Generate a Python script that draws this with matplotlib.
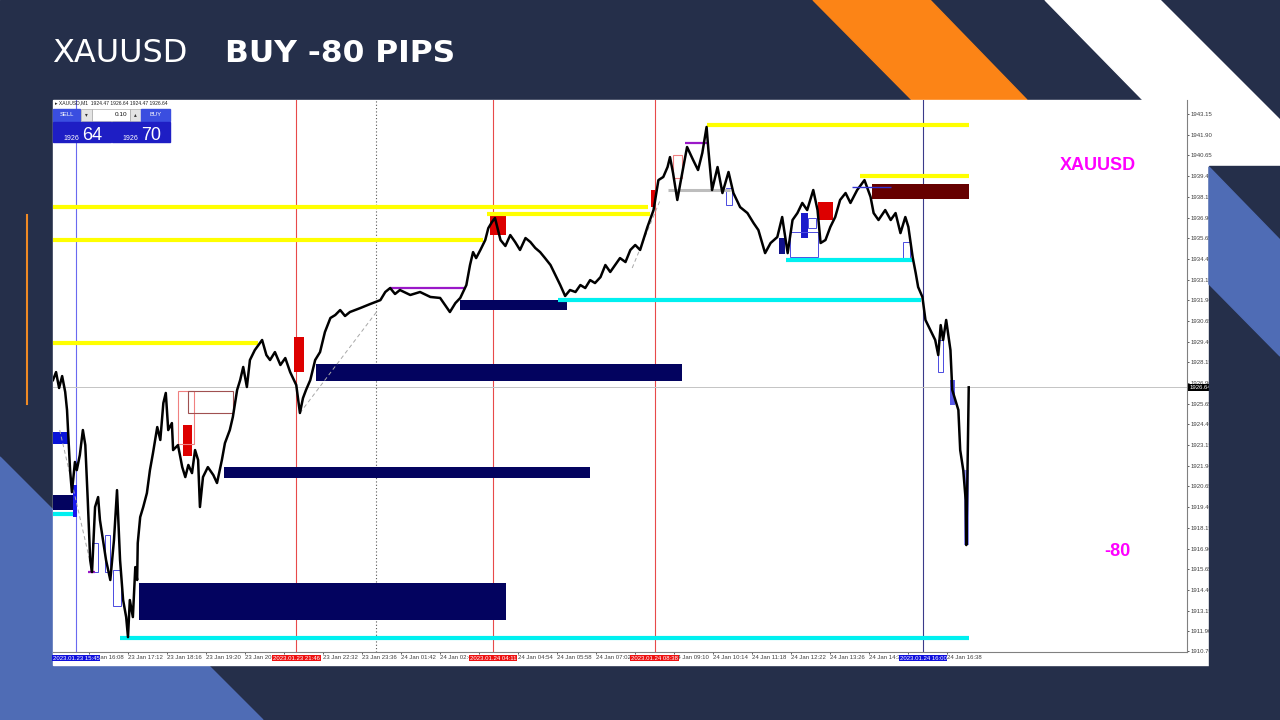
import matplotlib
matplotlib.use("Agg")
import matplotlib.pyplot as plt
from matplotlib.patches import Rectangle, Polygon

# slide colours
NAVY = '#252f4a'
STEEL = '#4f6cb5'
ORANGE = '#fc8416'

# ---- price trace (bar index, price) ----
bars = [0, 5, 10, 15, 20, 23, 28, 31, 36, 39,
        44, 49, 53, 57, 61, 64, 69, 74, 77, 82,
        87, 94, 100, 105, 110, 115, 120, 123, 126, 131,
        135, 138, 139, 143, 148, 154, 159, 164, 171, 176,
        181, 185, 189, 195, 197, 205, 212, 217, 222, 228,
        233, 238, 241, 246, 254, 263, 269, 277, 282, 290,
        295, 302, 307, 312, 318, 323, 331, 343, 350, 356,
        364, 373, 381, 389, 399, 405, 410, 415, 422, 430,
        438, 446, 455, 463, 471, 479, 487, 504, 520, 537,
        545, 553, 561, 569, 586, 602, 619, 635, 643, 651,
        660, 668, 678, 684, 689, 694, 701, 709, 714, 720,
        725, 734, 742, 750, 758, 766, 775, 783, 791, 799,
        807, 816, 824, 832, 840, 848, 857, 865, 873, 881,
        889, 898, 906, 914, 922, 930, 939, 947, 955, 963,
        975, 985, 993, 1001, 1008, 1012, 1017, 1024, 1029, 1040,
        1050, 1058, 1065, 1072, 1075, 1081, 1090, 1098, 1108, 1116,
        1127, 1139, 1149, 1157, 1168, 1177, 1188, 1196, 1205, 1213,
        1221, 1229, 1237, 1247, 1254, 1259, 1267, 1275, 1283, 1291,
        1300, 1308, 1319, 1331, 1341, 1346, 1354, 1365, 1374, 1382,
        1390, 1398, 1403, 1410, 1415, 1419, 1426, 1431, 1439, 1447,
        1452, 1456, 1460, 1465, 1472, 1475, 1480, 1485, 1488, 1493,
        1497, 1498, 1500, 1502]
prices = [1927.08, 1927.56, 1926.60, 1927.32, 1926.36, 1925.27, 1921.64, 1920.31, 1922.13, 1921.64,
          1922.55, 1924.06, 1923.15, 1919.83, 1916.20, 1915.48, 1919.41, 1920.01, 1918.62, 1917.41,
          1916.20, 1915.00, 1917.41, 1920.43, 1916.20, 1913.79, 1912.76, 1911.55, 1913.79, 1912.76,
          1915.78, 1915.00, 1917.23, 1918.80, 1919.41, 1920.25, 1921.64, 1922.67, 1924.24, 1923.46,
          1925.69, 1926.30, 1924.06, 1924.48, 1922.85, 1923.15, 1921.82, 1921.22, 1921.95, 1921.46,
          1922.85, 1922.25, 1919.41, 1921.22, 1921.82, 1921.34, 1920.86, 1922.25, 1923.27, 1924.06,
          1924.85, 1926.48, 1927.08, 1927.87, 1926.66, 1928.29, 1928.89, 1929.50, 1928.59, 1928.29,
          1928.77, 1927.99, 1928.41, 1927.56, 1926.78, 1925.09, 1925.99, 1926.48, 1927.08, 1928.29,
          1928.77, 1929.98, 1930.83, 1931.01, 1931.31, 1930.95, 1931.19, 1931.43, 1931.67, 1931.91,
          1932.40, 1932.64, 1932.28, 1932.52, 1932.22, 1932.40, 1932.10, 1932.04, 1931.61, 1931.19,
          1931.73, 1932.04, 1932.82, 1934.03, 1934.81, 1934.45, 1934.94, 1935.54, 1936.26, 1936.63,
          1936.87, 1935.54, 1935.18, 1935.84, 1935.42, 1934.94, 1935.66, 1935.42, 1935.06, 1934.81,
          1934.45, 1934.03, 1933.42, 1932.82, 1932.16, 1932.52, 1932.40, 1932.82, 1932.64, 1933.12,
          1932.94, 1933.30, 1934.03, 1933.61, 1934.03, 1934.45, 1934.21, 1934.94, 1935.24, 1934.94,
          1936.33, 1937.35, 1939.16, 1939.35, 1939.95, 1940.55, 1939.59, 1937.96, 1938.98, 1941.16,
          1940.37, 1939.77, 1940.80, 1942.37, 1940.98, 1938.56, 1939.95, 1938.38, 1939.65, 1938.38,
          1937.53, 1937.17, 1936.57, 1936.14, 1934.75, 1935.36, 1935.72, 1936.93, 1934.75, 1936.75,
          1937.17, 1937.78, 1937.35, 1938.56, 1937.35, 1935.36, 1935.54, 1936.33, 1936.93, 1937.96,
          1938.38, 1937.78, 1938.56, 1939.16, 1938.14, 1937.17, 1936.75, 1937.35, 1936.75, 1937.17,
          1935.96, 1936.93, 1936.33, 1934.51, 1933.55, 1932.70, 1932.10, 1930.71, 1930.10, 1929.50,
          1928.59, 1930.40, 1929.50, 1930.71, 1928.89, 1926.48, 1925.87, 1925.27, 1922.85, 1921.64,
          1919.83, 1917.11, 1921.64, 1926.64]
last_price = 1926.64

# ---- horizontal levels ----
yellow_levels = [1937.53, 1935.54, 1937.11, 1929.31, 1942.49, 1939.40]
yellow_from = [0, 0, 712, 0, 1072, 1323]
yellow_to = [976, 706, 980, 336, 1502, 1502]

cyan_levels = [1911.49, 1931.91, 1934.33, 1918.98]
cyan_from = [110, 829, 1203, 0]
cyan_to = [1502, 1423, 1410, 33]

purple_levels = [1932.64, 1941.40, 1915.48]
purple_from = [553, 1037, 57]
purple_to = [678, 1072, 69]

# ---- zones (demand = navy, supply = maroon) ----
demand_from = [141, 281, 432, 668, 0]
demand_to = [743, 881, 1032, 843, 33]
demand_low = [1912.58, 1921.16, 1927.02, 1931.31, 1919.22]
demand_high = [1914.81, 1921.82, 1928.04, 1931.91, 1920.13]

supply_from = [1344]
supply_to = [1502]
supply_low = [1938.01]
supply_high = [1938.92]

# ---- small order-block boxes ----
red_from = [213, 395, 717, 1255, 981]
red_to = [228, 412, 743, 1280, 988]
red_low = [1922.48, 1927.56, 1935.84, 1936.75, 1937.53]
red_high = [1924.36, 1929.68, 1936.99, 1937.83, 1938.56]

redo_from = [205, 222, 1017]
redo_to = [231, 295, 1032]
redo_low = [1923.21, 1925.09, 1939.28]
redo_high = [1926.42, 1926.42, 1940.67]
redo_color = ['#f08080', '#a05050', '#f08080']

blue_from = [1227, 1190, 33, 0, 1472, 1495]
blue_to = [1239, 1200, 39, 25, 1479, 1502]
blue_low = [1935.66, 1934.69, 1918.80, 1923.21, 1925.57, 1917.11]
blue_high = [1937.17, 1935.66, 1920.74, 1923.94, 1927.08, 1921.64]
blue_color = ['#1a1acc', '#10108a', '#1a1aee', '#0a14d8', '#5a5ae8', '#8c8cf0']

blueo_from = [1104, 1239, 1395, 1452, 64, 98, 85, 1209]
blueo_to = [1114, 1252, 1406, 1459, 74, 112, 94, 1254]
blueo_low = [1937.65, 1936.27, 1934.45, 1927.56, 1915.48, 1913.43, 1915.48, 1934.51]
blueo_high = [1938.68, 1936.87, 1935.42, 1929.50, 1917.23, 1915.60, 1917.72, 1936.02]

# ---- dashed trend segments ----
dash_bars = [[405, 533], [11, 64], [950, 996]]
dash_prices = [[1925.09, 1931.31], [1924.06, 1915.60], [1933.85, 1937.96]]

# ---- vertical markers ----
vline_bars = [38, 399, 722, 987, 1427]
vline_colors = ['#6a6af0', '#e84a4a', '#e84a4a', '#e84a4a', '#3a3a8a']
vline_labels = ['2023.01.23 15:45', '2023.01.23 21:46', '2023.01.24 04:11',
                '2023.01.24 08:38', '2023.01.24 16:00']
vline_boxes = ['#1010dd', '#ee1111', '#ee1111', '#ee1111', '#1010dd']
day_sep_bar = 530

# ---- axis labels ----
time_ticks = [59, 123, 187, 251, 315, 379, 443, 507, 571, 635, 699, 763,
              827, 891, 955, 1019, 1083, 1147, 1211, 1275, 1339, 1403, 1467]
time_labels = ['23 Jan 16:08', '23 Jan 17:12', '23 Jan 18:16', '23 Jan 19:20',
               '23 Jan 20:24', '23 Jan 21:28', '23 Jan 22:32', '23 Jan 23:36',
               '24 Jan 01:42', '24 Jan 02:46', '24 Jan 03:50', '24 Jan 04:54',
               '24 Jan 05:58', '24 Jan 07:02', '24 Jan 08:06', '24 Jan 09:10',
               '24 Jan 10:14', '24 Jan 11:18', '24 Jan 12:22', '24 Jan 13:26',
               '24 Jan 14:30', '24 Jan 15:34', '24 Jan 16:38']
price_ticks = [1910.70, 1911.90, 1913.15, 1914.40, 1915.65, 1916.90, 1918.15,
               1919.40, 1920.65, 1921.90, 1923.15, 1924.40, 1925.65, 1926.90,
               1928.15, 1929.40, 1930.65, 1931.90, 1933.15, 1934.40, 1935.65,
               1936.90, 1938.15, 1939.40, 1940.65, 1941.90, 1943.15]

fig = plt.figure(figsize=(12.8, 7.2), dpi=100)

# background slide, pixel coordinates
bg = fig.add_axes([0, 0, 1, 1], zorder=0)
bg.set_xlim(0, 1280)
bg.set_ylim(720, 0)
bg.axis('off')
bg.add_patch(Rectangle((0, 0), 1280, 720, color=NAVY))
bg.add_patch(Polygon([(813, 0), (930, 0), (1027, 100), (912, 100)], color=ORANGE))
bg.add_patch(Polygon([(1045, 0), (1160, 0), (1280, 120), (1280, 240)], color='white'))
bg.add_patch(Polygon([(0, 457), (263, 720), (0, 720)], color=STEEL))
bg.plot([27, 27], [215, 404], color='#f08a24', lw=1.5)
bg.add_patch(Rectangle((53, 100), 1156, 565, color='white'))
bg.text(52, 54, 'XAUUSD', color='white', fontsize=23, family='DejaVu Sans',
        va='center', ha='left')
bg.text(225, 54, 'BUY -80 PIPS', color='white', fontsize=22.5, family='DejaVu Sans',
        fontweight='bold', va='center', ha='left')

# chart
ax = fig.add_axes([53 / 1280, 68 / 720, 1134 / 1280, 552 / 720], zorder=1)
ax.set_facecolor('white')
ax.set_xlim(0, 1860)
ax.set_ylim(1910.65, 1944.0)

for b, c in zip(vline_bars, vline_colors):
    ax.axvline(b, color=c, lw=0.8, zorder=1)
ax.axvline(day_sep_bar, color='#555555', lw=0.8, ls=(0, (1, 2)), zorder=1)
ax.axhline(last_price, color='#c4c4c4', lw=0.7, zorder=1)

ax.bar(demand_from, [h - l for h, l in zip(demand_high, demand_low)],
       width=[t - f for t, f in zip(demand_to, demand_from)], bottom=demand_low,
       align='edge', color='#03035f', zorder=2)
ax.bar(supply_from, [h - l for h, l in zip(supply_high, supply_low)],
       width=[t - f for t, f in zip(supply_to, supply_from)], bottom=supply_low,
       align='edge', color='#660000', zorder=2)
ax.bar(red_from, [h - l for h, l in zip(red_high, red_low)],
       width=[t - f for t, f in zip(red_to, red_from)], bottom=red_low,
       align='edge', color='#dd0000', zorder=2)
ax.bar(redo_from, [h - l for h, l in zip(redo_high, redo_low)],
       width=[t - f for t, f in zip(redo_to, redo_from)], bottom=redo_low,
       align='edge', facecolor='none', edgecolor=redo_color, lw=0.8, zorder=2)
ax.bar(blue_from, [h - l for h, l in zip(blue_high, blue_low)],
       width=[t - f for t, f in zip(blue_to, blue_from)], bottom=blue_low,
       align='edge', color=blue_color, zorder=2)
ax.bar(blueo_from, [h - l for h, l in zip(blueo_high, blueo_low)],
       width=[t - f for t, f in zip(blueo_to, blueo_from)], bottom=blueo_low,
       align='edge', facecolor='none', edgecolor='#4a4ae0', lw=0.7, zorder=2)

ax.hlines(yellow_levels, yellow_from, yellow_to, colors='#ffff00', lw=3, zorder=2)
ax.hlines(cyan_levels, cyan_from, cyan_to, colors='#00f0f0', lw=3, zorder=2)
ax.hlines(purple_levels, purple_from, purple_to, colors='#9a18c8', lw=1.6, zorder=2)
ax.hlines([1938.56], [1008], [1111], colors='#bdbdbd', lw=2.2, zorder=2)
ax.hlines([1938.74], [1311], [1374], colors='#3030d0', lw=1.0, zorder=4)
for xs, ys in zip(dash_bars, dash_prices):
    ax.plot(xs, ys, color='#a8a8a8', lw=0.7, ls=(0, (4, 3)), zorder=2)

ax.plot(bars, prices, color='black', lw=1.8, zorder=3)

# axes styling like the MT4 terminal
for s in ['top', 'left']:
    ax.spines[s].set_visible(False)
for s in ['right', 'bottom']:
    ax.spines[s].set_color('#808080')
    ax.spines[s].set_linewidth(0.8)
ax.yaxis.tick_right()
ax.set_yticks(price_ticks)
ax.set_yticklabels([f'{p:.2f}' for p in price_ticks])
ax.set_xticks(time_ticks)
ax.set_xticklabels(time_labels)
ax.tick_params(axis='both', labelsize=4.3, length=1.6, width=0.6, pad=0.8,
               colors='#404040')
for lbl in ax.get_xticklabels() + ax.get_yticklabels():
    lbl.set_family('Liberation Sans')
for lbl in ax.get_xticklabels():
    lbl.set_horizontalalignment('left')

for b, txt, c in zip(vline_bars, vline_labels, vline_boxes):
    ax.text(b, -0.011, txt, transform=ax.get_xaxis_transform(), ha='center',
            va='center', fontsize=4.3, family='Liberation Sans', color='white',
            bbox=dict(boxstyle='square,pad=0.15', fc=c, ec='none'), zorder=5,
            clip_on=False)
ax.text(1.002, last_price, f'{last_price:.2f}', transform=ax.get_yaxis_transform(),
        ha='left', va='center', fontsize=4.3, family='Liberation Sans', color='white',
        bbox=dict(boxstyle='square,pad=0.15', fc='black', ec='none'), zorder=5,
        clip_on=False)

# overlay: right-hand slide strip, trade panel, annotations (pixel coordinates)
ui = fig.add_axes([0, 0, 1, 1], zorder=2)
ui.set_xlim(0, 1280)
ui.set_ylim(720, 0)
ui.axis('off')
ui.patch.set_alpha(0)
ui.add_patch(Rectangle((1209, 166), 71, 554, color=NAVY))
ui.add_patch(Polygon([(1209, 167), (1280, 240), (1280, 356), (1209, 284)], color=STEEL))

ui.text(1098, 166, 'XAUUSD', color='#ff00ff', fontsize=13, fontweight='bold',
        family='Liberation Sans', ha='center', va='center')
ui.text(1117, 552, '-80', color='#ff00ff', fontsize=13, fontweight='bold',
        family='Liberation Sans', ha='center', va='center')

ui.text(55, 102.5, '\u25b8 XAUUSD,M1  1924.47 1926.64 1924.47 1926.64', fontsize=3.6,
        color='#222222', family=['Liberation Sans', 'DejaVu Sans'], va='center')
ui.add_patch(Rectangle((53, 109), 27, 12, color='#3a4ee0'))
ui.text(66.5, 115, 'SELL', color='white', fontsize=4.2, family='Liberation Sans',
        ha='center', va='center')
ui.add_patch(Rectangle((81, 109), 11, 12, fc='#e4e4e4', ec='#9a9a9a', lw=0.4))
ui.text(86.5, 115, '\u25be', color='#333333', fontsize=4, family='DejaVu Sans',
        ha='center', va='center')
ui.add_patch(Rectangle((92, 109), 38, 12, fc='white', ec='#9a9a9a', lw=0.4))
ui.text(127, 115, '0.10', color='#111111', fontsize=4.6, family='Liberation Sans',
        ha='right', va='center')
ui.add_patch(Rectangle((130, 109), 11, 12, fc='#e4e4e4', ec='#9a9a9a', lw=0.4))
ui.text(135.5, 115, '\u25b4', color='#333333', fontsize=4, family='DejaVu Sans',
        ha='center', va='center')
ui.add_patch(Rectangle((141, 109), 29, 12, color='#3a4ee0'))
ui.text(155.5, 115, 'BUY', color='white', fontsize=4.2, family='Liberation Sans',
        ha='center', va='center')
for x0, big in [(53, '64'), (112, '70')]:
    ui.add_patch(Rectangle((x0, 122), 58, 20, color='#1e1ec4'))
    ui.text(x0 + 10, 140, '1926', color='white', fontsize=5, family='Liberation Sans',
            ha='left', va='baseline')
    ui.text(x0 + 29, 140.5, big, color='white', fontsize=13, family='Liberation Sans',
            ha='left', va='baseline')

fig.savefig('out.png', dpi=100)
